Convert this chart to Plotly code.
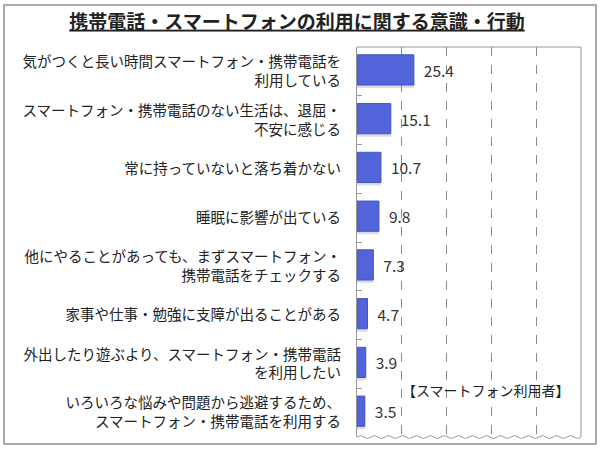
import plotly.graph_objects as go

# data (percent)
labels = [
    "気がつくと長い時間スマートフォン・携帯電話を<br>利用している",
    "スマートフォン・携帯電話のない生活は、退屈・<br>不安に感じる",
    "常に持っていないと落ち着かない",
    "睡眠に影響が出ている",
    "他にやることがあっても、まずスマートフォン・<br>携帯電話をチェックする",
    "家事や仕事・勉強に支障が出ることがある",
    "外出したり遊ぶより、スマートフォン・携帯電話<br>を利用したい",
    "いろいろな悩みや問題から逃避するため、<br>スマートフォン・携帯電話を利用する",
]
values = [25.4, 15.1, 10.7, 9.8, 7.3, 4.7, 3.9, 3.5]

title = "<u><b>携帯電話・スマートフォンの利用に関する意識・行動</b></u>"
note = "【スマートフォン利用者】"

font = "Noto Sans CJK JP"

# plot area in pixels (for the frame shapes)
W, H = 600, 450
L, R, T, B = 357, 19, 47, 13
pw, ph = W - L - R, H - T - B


def px_x(x):
    return (x - L) / pw


def px_y(y):
    return 1 - (y - T) / ph


fig = go.Figure()

# soft shadow under the bars
fig.add_trace(go.Bar(
    x=values, y=labels, orientation="h",
    marker=dict(color="rgba(120,120,140,0.25)", line=dict(width=0)),
    width=0.64, offset=-0.30,
    hoverinfo="skip", showlegend=False,
))

fig.add_trace(go.Bar(
    x=values, y=labels, orientation="h",
    marker=dict(color="#5264da", line=dict(color="#4355c8", width=1)),
    width=0.62, offset=-0.34,
    text=["\u00a0\u00a0" + f"{v:.1f}" for v in values],
    textposition="outside",
    textfont=dict(family=font, size=15.5, color="#333333"),
    cliponaxis=False,
    showlegend=False,
))

# wavy bottom edge of the plot area
wave = "M 0 0"
n = 16
for i in range(n):
    x0 = i / n
    x1 = (i + 0.5) / n
    x2 = (i + 1) / n
    d = 3 / ph
    wave += f" Q {(x0 + x1) / 2} {d} {x1} 0 Q {(x1 + x2) / 2} {-d} {x2} 0"

shapes = [
    # top and right edges of plot area
    dict(type="line", xref="paper", yref="paper", x0=0, x1=1, y0=1, y1=1,
         line=dict(color="#999999", width=1)),
    dict(type="line", xref="paper", yref="paper", x0=1, x1=1, y0=0, y1=1,
         line=dict(color="#999999", width=1)),
    dict(type="path", xref="paper", yref="paper", path=wave,
         line=dict(color="#999999", width=1)),
    # outer frame
    dict(type="rect", xref="paper", yref="paper",
         x0=px_x(4), x1=px_x(596), y0=px_y(444), y1=px_y(5),
         line=dict(color="#aaaaaa", width=2), layer="above"),
]

fig.update_layout(
    width=W, height=H,
    margin=dict(l=L, r=R, t=T, b=B),
    paper_bgcolor="white", plot_bgcolor="white",
    barmode="overlay",
    font=dict(family=font, color="#222222"),
    title=dict(text=title, x=297 / W, xref="container", xanchor="center",
               y=1 - 22 / H, yref="container", yanchor="middle",
               font=dict(family=font, size=19, color="#222222")),
    shapes=shapes,
    annotations=[dict(
        text=note, xref="paper", yref="paper",
        x=px_x(486), y=px_y(390), xanchor="center", yanchor="middle",
        showarrow=False, font=dict(family=font, size=14, color="#222222"),
    )],
    xaxis=dict(range=[0, 100], dtick=20, showticklabels=False,
               showgrid=True, gridcolor="#8a8a8a", griddash="dash",
               gridwidth=1, zeroline=False, showline=False, ticks="",
               automargin=False),
    yaxis=dict(autorange="reversed", showline=True, linecolor="#999999",
               linewidth=1, ticks="inside", ticklen=5, tickcolor="#999999",
               tickson="boundaries", showgrid=False, automargin=False,
               tickfont=dict(family=font, size=14.5, color="#222222"),
               ticklabelstandoff=12),
)

# page without the default body margin, so the figure sits at the corner
fig.write_html("out.html",
               config={"displayModeBar": False},
               post_script="document.body.style.margin='0';"
                           "document.body.style.overflow='hidden';")
